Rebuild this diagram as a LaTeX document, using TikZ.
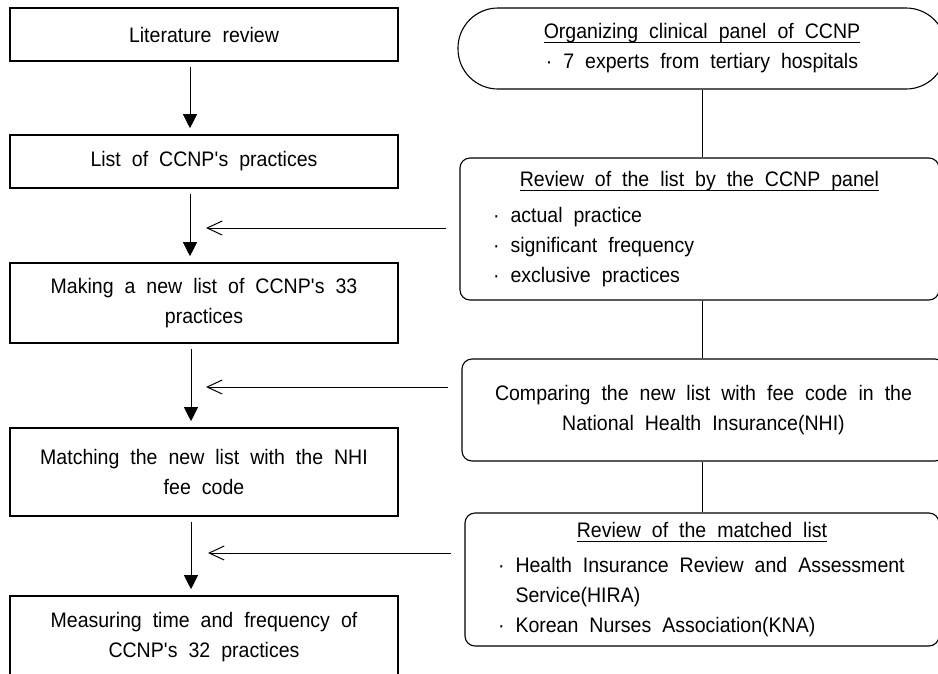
\documentclass[tikz,border=0pt]{standalone}
\usepackage{fontspec}
\usepackage{tikz}
\usetikzlibrary{arrows.meta,calc}
\setmainfont{Liberation Sans}[FakeStretch=0.93]
\newcommand{\widesp}{\spaceskip=11pt plus 2pt minus 2pt\relax}
\newcommand{\boxfont}{\fontsize{21}{30}\selectfont\widesp}
\newsavebox{\ulbox}
\newcommand{\ulined}[1]{\sbox{\ulbox}{#1}\rlap{\rule[-4pt]{\wd\ulbox}{0.9pt}}\usebox{\ulbox}}
\tikzstyle{lbox}=[rectangle,draw=black,line width=1.6pt,font=\boxfont,
  inner sep=0pt,minimum width=388pt,align=center]
\tikzstyle{rbox}=[rectangle,rounded corners=10pt,draw=black,line width=1.1pt,
  font=\boxfont,inner sep=0pt]
\tikzstyle{pill}=[rectangle,rounded corners=40pt,draw=black,line width=1.1pt,
  font=\boxfont,inner sep=0pt]
\tikzstyle{flow}=[-{Triangle[length=14pt,width=14pt]},line width=1pt,
  shorten <=5pt,shorten >=6pt]
\tikzstyle{back}=[-{Straight Barb[length=15pt,width=14pt]},line width=1pt,
  shorten <=13pt]
\tikzstyle{none}=[]

\begin{document}
\begin{tikzpicture}[x=1pt,y=-1pt]
    \useasboundingbox (0,0) rectangle (938,673);
    \clip (0,0) rectangle (938,673);
            \node [style=lbox,minimum height=53pt] (0) at (204, 34.5) {Literature review};
            \node [style=lbox,minimum height=53pt] (1) at (204, 161.5) {List of CCNP\textquotesingle s practices};
            \node [style=lbox,minimum height=80pt] (2) at (204, 303) {Making a new list of CCNP\textquotesingle s 33\\practices};
            \node [style=lbox,minimum height=88pt] (3) at (204, 472) {Matching the new list with the NHI\\fee code};
            \node [style=lbox,minimum height=82pt] (4) at (204, 637) {Measuring time and frequency of\\CCNP\textquotesingle s 32 practices};
            \node [style=pill,minimum width=488pt,minimum height=81pt,align=center] (5) at (702, 48.5)
              {\ulined{Organizing clinical panel of CCNP}\\· 7 experts from tertiary hospitals};
            \node [style=rbox,minimum width=479pt,minimum height=142pt,text width=413pt,align=left] (6) at (699.5, 229)
              {\widesp\vspace*{6pt}{\centering\ulined{Review of the list by the CCNP panel}\par}
               · actual practice\\· significant frequency\\· exclusive practices};
            \node [style=rbox,minimum width=483pt,minimum height=102pt,align=center] (7) at (703.5, 410)
              {Comparing the new list with fee code in the\\National Health Insurance(NHI)};
            \node [style=rbox,minimum width=474pt,minimum height=133pt,text width=408pt,align=left] (8) at (702, 579.5)
              {\widesp\vspace*{5pt}{\centering\ulined{Review of the matched list}\par}
               · Health Insurance Review and Assessment\\\phantom{·} Service(HIRA)\\· Korean Nurses Association(KNA)};
            \coordinate (9) at (206, 228);
            \coordinate (10) at (206, 387);
            \coordinate (11) at (208, 553);
            \draw [style=flow] ([xshift=-14pt]0.south) to ([xshift=-14pt]1.north);
            \draw [style=flow] ([xshift=-14pt]1.south) to ([xshift=-14pt]2.north);
            \draw [style=flow] ([xshift=-13pt]2.south) to ([xshift=-13pt]3.north);
            \draw [style=flow] ([xshift=-13pt]3.south) to ([xshift=-13pt]4.north);
            \draw [line width=1pt] (5.south) to (5.south |- 6.north);
            \draw [line width=1pt] (5.south |- 6.south) to (5.south |- 7.north);
            \draw [line width=1pt] (5.south |- 7.south) to (5.south |- 8.north);
            \draw [style=back] (6.west |- 9) to (9);
            \draw [style=back] (7.west |- 10) to (10);
            \draw [style=back] (8.west |- 11) to (11);
    \end{tikzpicture}
\end{document}
